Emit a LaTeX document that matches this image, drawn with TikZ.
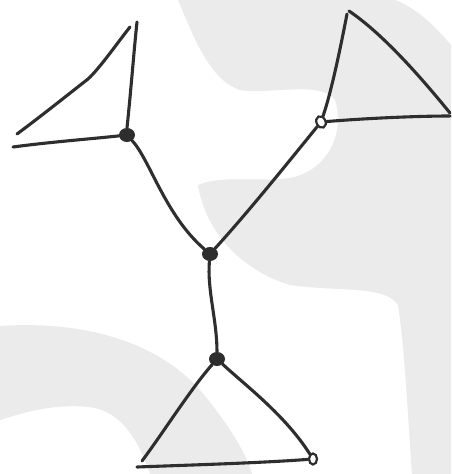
\documentclass[tikz,border=0pt]{standalone}
\usetikzlibrary{shapes.geometric}
\begin{document}
\begin{tikzpicture}[x=1pt,y=-1pt,
  edge/.style={line width=3.1pt,draw=black!82,line cap=round,line join=round},
  fdot/.style={ellipse,fill=black!82,inner sep=0pt,minimum width=16pt,minimum height=14pt},
  odot/.style={ellipse,draw=black!82,line width=2.2pt,fill=white,inner sep=0pt,minimum width=9pt,minimum height=12pt},
  bg/.style={fill=black!8,draw=none}]
\useasboundingbox (0,0) rectangle (451,474);
\fill[white] (0,0) rectangle (451,474);
% faint background shapes
\path[bg] (178,0) .. controls (195,40) and (210,80) .. (240,90)
 .. controls (270,95) and (320,80) .. (335,100)
 .. controls (345,130) and (330,170) .. (290,178)
 .. controls (260,182) and (220,175) .. (198,185)
 .. controls (205,230) and (240,270) .. (290,285)
 .. controls (340,292) and (385,285) .. (398,305)
 .. controls (405,350) and (408,420) .. (412,474)
 -- (451,474) -- (451,45)
 .. controls (430,20) and (410,5) .. (395,0) -- cycle;
\path[bg] (0,326) .. controls (90,320) and (160,345) .. (200,390)
 .. controls (225,420) and (245,450) .. (252,474) -- (150,474)
 .. controls (140,445) and (125,415) .. (95,408)
 .. controls (60,402) and (25,412) .. (0,420) -- cycle;
% named points
\node[fdot] (L) at (127,135) {};
\node[fdot] (C) at (210,254) {};
\node[fdot] (B) at (217,359) {};
\node[odot,rotate=25] (R) at (321,122) {};
\node[odot,minimum width=8pt,minimum height=11pt] (Bo) at (313,459) {};
\coordinate (Lt) at (137,22);
\coordinate (Lt2) at (130,27);
\coordinate (Ll) at (17,134);
\coordinate (Lh) at (13,147);
\coordinate (Rt) at (347,14);
\coordinate (Rt2) at (349,11);
\coordinate (Rr) at (450,113);
\coordinate (Rh) at (450,116);
\coordinate (Bl) at (142,461);
\coordinate (Bb) at (137,467);
% left triangle
\draw[edge] (L.north) .. controls (131,90) and (134,50) .. (Lt);
\draw[edge] (Ll) .. controls (40,117) and (65,97) .. (88,79) .. controls (100,68) and (118,42) .. (Lt2);
\draw[edge] (Lh) .. controls (50,142) and (90,139) .. (L);
% right triangle
\draw[edge] (R) .. controls (332,90) and (342,40) .. (Rt);
\draw[edge] (Rt2) .. controls (380,32) and (415,70) .. (Rr);
\draw[edge] (R) .. controls (370,118) and (420,116) .. (Rh);
% bottom triangle
\draw[edge] (B) .. controls (190,390) and (165,430) .. (Bl);
\draw[edge] (B) .. controls (245,385) and (285,415) .. (Bo);
\draw[edge] (Bb) .. controls (190,465) and (260,463) .. (Bo);
% spine
\draw[edge] (L) .. controls (150,160) and (165,215) .. (C);
\draw[edge] (C) .. controls (250,210) and (290,160) .. (R);
\draw[edge] (C) .. controls (207,290) and (217,320) .. (B);
\end{tikzpicture}
\end{document}
